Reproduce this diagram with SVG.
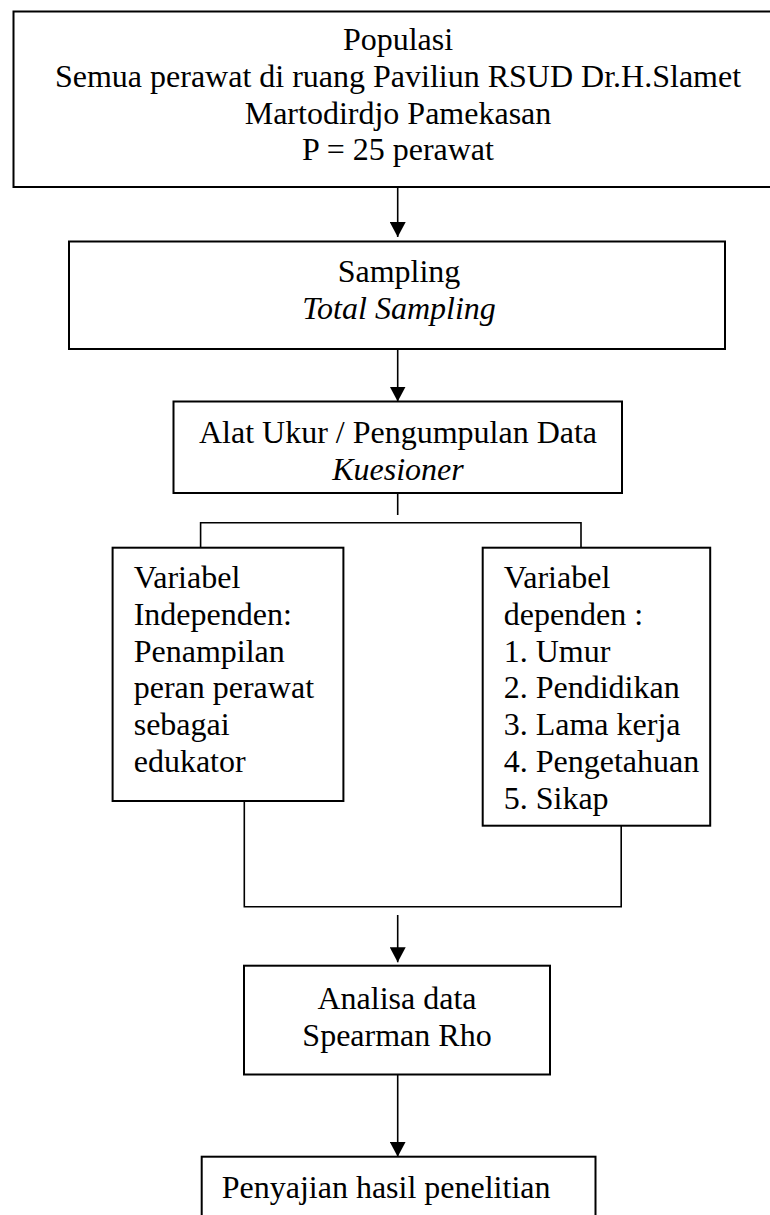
<svg xmlns="http://www.w3.org/2000/svg" width="770" height="1215" viewBox="0 0 770 1215">
  <style>
    .box { fill: #ffffff; stroke: #000000; stroke-width: 2; }
    .conn { fill: none; stroke: #000000; stroke-width: 1.6; }
    text { font-family: "Liberation Serif", "Times New Roman", serif; font-size: 32px; fill: #000000; }
    .c { text-anchor: middle; }
    .i { font-style: italic; }
  </style>
  <defs>
    <marker id="arrow" markerUnits="userSpaceOnUse" viewBox="0 0 15 16" refX="15" refY="8" markerWidth="15" markerHeight="16" orient="auto">
      <path d="M0,0 L15,8 L0,16 Z" fill="#000000"/>
    </marker>
  </defs>
  <rect x="0" y="0" width="770" height="1215" fill="#ffffff"/>

  <g id="populasi">
    <rect class="box" x="13.5" y="11.5" width="770" height="175.5"/>
    <text class="c" x="398" y="50">Populasi</text>
    <text class="c" x="398" y="86.8">Semua perawat di ruang Paviliun RSUD Dr.H.Slamet</text>
    <text class="c" x="398" y="123.6">Martodirdjo Pamekasan</text>
    <text class="c" x="398" y="160.4">P = 25 perawat</text>
  </g>

  <g id="sampling">
    <rect class="box" x="69" y="241.5" width="656" height="107.5"/>
    <text class="c" x="399" y="282">Sampling</text>
    <text class="c i" x="399" y="319">Total Sampling</text>
  </g>

  <g id="alat-ukur">
    <rect class="box" x="173.5" y="401.5" width="448.5" height="91.5"/>
    <text class="c" x="398" y="443">Alat Ukur / Pengumpulan Data</text>
    <text class="c i" x="398" y="480">Kuesioner</text>
  </g>

  <g id="variabel-independen">
    <rect class="box" x="112.6" y="547.7" width="230.8" height="253.3"/>
    <text x="133.7" y="588">Variabel</text>
    <text x="133.7" y="624.8">Independen:</text>
    <text x="133.7" y="661.6">Penampilan</text>
    <text x="133.7" y="698.4">peran perawat</text>
    <text x="133.7" y="735.2">sebagai</text>
    <text x="133.7" y="772">edukator</text>
  </g>

  <g id="variabel-dependen">
    <rect class="box" x="482.7" y="547.7" width="227.5" height="278"/>
    <text x="503.7" y="588">Variabel</text>
    <text x="503.7" y="624.8">dependen :</text>
    <text x="503.7" y="661.6">1. Umur</text>
    <text x="503.7" y="698.4">2. Pendidikan</text>
    <text x="503.7" y="735.2">3. Lama kerja</text>
    <text x="503.7" y="772">4. Pengetahuan</text>
    <text x="503.7" y="808.8">5. Sikap</text>
  </g>

  <g id="analisa-data">
    <rect class="box" x="244" y="965.7" width="306" height="108.8"/>
    <text class="c" x="397" y="1009">Analisa data</text>
    <text class="c" x="397" y="1045.5">Spearman Rho</text>
  </g>

  <g id="penyajian">
    <rect class="box" x="201.7" y="1156.7" width="393.8" height="80"/>
    <text x="221.7" y="1198">Penyajian hasil penelitian</text>
  </g>

  <g id="connectors">
    <line class="conn" x1="397.7" y1="187" x2="397.7" y2="237" marker-end="url(#arrow)"/>
    <line class="conn" x1="397.7" y1="349" x2="397.7" y2="401.5" marker-end="url(#arrow)"/>
    <line class="conn" x1="397.7" y1="493" x2="397.7" y2="515"/>
    <polyline class="conn" points="200.6,547.7 200.6,522.7 581,522.7 581,547.7"/>
    <polyline class="conn" points="244.3,801 244.3,906.7 621.2,906.7 621.2,825.7"/>
    <line class="conn" x1="397.7" y1="915" x2="397.7" y2="962.3" marker-end="url(#arrow)"/>
    <line class="conn" x1="397.7" y1="1074.5" x2="397.7" y2="1156.7" marker-end="url(#arrow)"/>
  </g>
</svg>
